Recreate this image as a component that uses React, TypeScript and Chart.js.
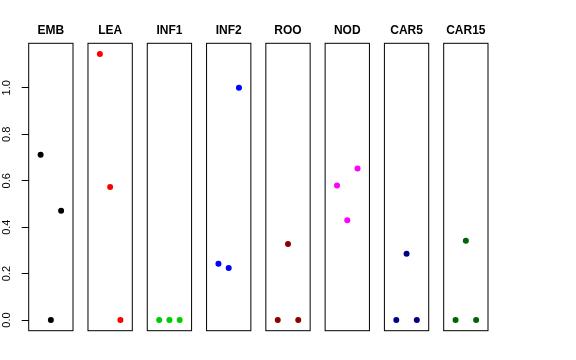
import React, { useEffect, useRef } from "react";
import { Chart, registerables } from "chart.js";

Chart.register(...registerables);

const categories = ["EMB", "LEA", "INF1", "INF2", "ROO", "NOD", "CAR5", "CAR15"];
const colors = ["#000000", "#FF0000", "#00CD00", "#0000FF", "#8B0000", "#FF00FF", "#00008B", "#006400"];
const replicates = [1, 2, 3];
const emb = [0.712, 0.0, 0.471];
const lea = [1.146, 0.573, 0.0];
const inf1 = [0.0, 0.0, 0.0];
const inf2 = [0.242, 0.224, 1.0];
const roo = [0.0, 0.328, 0.0];
const nod = [0.579, 0.43, 0.653];
const car5 = [0.0, 0.286, 0.0];
const car15 = [0.0, 0.342, 0.0];
const series = [emb, lea, inf1, inf2, roo, nod, car5, car15];
const yTicks = [0, 0.2, 0.4, 0.6, 0.8, 1.0];

// layout constants (units of the x scale)
const PANEL_STEP = 5.78;
const X_PAD = 0.16;

export default function App() {
  const ref = useRef<HTMLCanvasElement | null>(null);

  useEffect(() => {
    if (!ref.current) return;
    const all = series.flat();
    const yMaxData = Math.max(...all);
    const yMinData = Math.min(...all);
    const yr = yMaxData - yMinData;
    const yMin = yMinData - 0.04 * yr;
    const yMax = yMaxData + 0.04 * yr;
    const xMin = 1 - 1 - X_PAD;
    const xMax = (categories.length - 1) * PANEL_STEP + 4 + X_PAD;

    const datasets = series.map((vals, i) => ({
      label: categories[i],
      data: vals.map((v, j) => ({ x: i * PANEL_STEP + replicates[j], y: v })),
      backgroundColor: colors[i],
      borderColor: colors[i],
      borderWidth: 0,
      pointRadius: 3,
      pointHoverRadius: 3,
    }));

    const panelPlugin = {
      id: "panels",
      beforeDatasetsDraw(chart: any) {
        const { ctx, chartArea, scales } = chart;
        const xs = scales.x;
        ctx.save();
        categories.forEach((name, i) => {
          const l = xs.getPixelForValue(i * PANEL_STEP - X_PAD);
          const r = xs.getPixelForValue(i * PANEL_STEP + 4 + X_PAD);
          ctx.strokeStyle = "#000";
          ctx.lineWidth = 1;
          ctx.strokeRect(l, chartArea.top, r - l, chartArea.bottom - chartArea.top);
          ctx.fillStyle = "#000";
          ctx.font = "bold 12px 'Liberation Sans', Arial, sans-serif";
          ctx.textAlign = "center";
          ctx.textBaseline = "alphabetic";
          ctx.fillText(name, (l + r) / 2, chartArea.top - 9.3);
        });
        ctx.restore();
      },
    };

    const chart = new Chart(ref.current, {
      type: "scatter",
      data: { datasets },
      options: {
        animation: false,
        responsive: false,
        events: [],
        layout: { padding: { left: 0, right: 88, top: 43.3, bottom: 29.3 } },
        plugins: { legend: { display: false }, tooltip: { enabled: false } },
        scales: {
          x: { type: "linear", min: xMin, max: xMax, display: false },
          y: {
            type: "linear",
            min: yMin,
            max: yMax,
            afterBuildTicks: (s: any) => {
              s.ticks = yTicks.map((v) => ({ value: v }));
            },
            afterFit: (s: any) => {
              s.width = 28.7;
            },
            grid: {
              drawOnChartArea: false,
              drawTicks: true,
              tickLength: 7,
              color: "#000",
              tickColor: "#000",
            },
            border: { display: false },
            ticks: {
              minRotation: 90,
              maxRotation: 90,
              crossAlign: "center",
              padding: 7.4,
              color: "#000",
              font: { family: "'Liberation Sans', Arial, sans-serif", size: 11 },
              callback: (v: any) => Number(v).toFixed(1),
            },
          },
        },
      },
      plugins: [panelPlugin],
    });
    return () => chart.destroy();
  }, []);

  return (
    <div style={{ position: "fixed", left: 0, top: 0, width: 576, height: 360, background: "#fff" }}>
      <canvas ref={ref} width={576} height={360} />
    </div>
  );
}
